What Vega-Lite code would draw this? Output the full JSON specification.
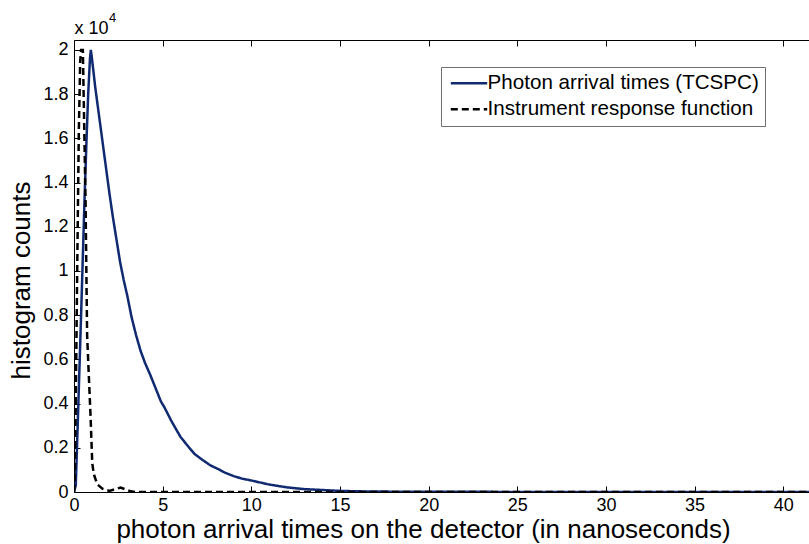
{
  "$schema": "https://vega.github.io/schema/vega-lite/v6.json",
  "width": 735,
  "height": 452,
  "autosize": {"type": "none"},
  "padding": {"left": 74, "top": 40, "right": 0, "bottom": 52},
  "background": "white",
  "title": {
    "text": "4",
    "anchor": "start",
    "frame": "group",
    "fontSize": 13,
    "fontWeight": "normal",
    "font": "Liberation Sans",
    "color": "black",
    "dx": 35,
    "offset": -6
  },
  "config": {
    "view": {"stroke": null},
    "font": "Liberation Sans",
    "axis": {
      "domainColor": "black",
      "domainWidth": 1,
      "tickColor": "black",
      "tickWidth": 1,
      "tickSize": -6,
      "grid": false,
      "labelFont": "Liberation Sans",
      "labelFontSize": 18,
      "labelColor": "black",
      "labelPadding": 10,
      "labelFlush": false,
      "labelOverlap": false,
      "titleFont": "Liberation Sans",
      "titleFontSize": 26,
      "titleFontWeight": "normal",
      "titleColor": "black"
    },
    "legend": {
      "orient": "none",
      "legendX": 367,
      "legendY": 27,
      "title": null,
      "padding": 6,
      "strokeColor": "#707070",
      "fillColor": "white",
      "labelFont": "Liberation Sans",
      "labelFontSize": 20.6,
      "labelColor": "black",
      "labelLimit": 500,
      "labelOffset": 20,
      "rowPadding": 5,
      "symbolType": "M-1,0H4.6",
      "symbolSize": 169,
      "symbolStrokeWidth": 2.5
    }
  },
  "datasets": {
    "tcspc": [
      {"t": 0, "counts": 0, "series": "Photon arrival times (TCSPC)"},
      {"t": 0.1, "counts": 300, "series": "Photon arrival times (TCSPC)"},
      {"t": 0.2, "counts": 2800, "series": "Photon arrival times (TCSPC)"},
      {"t": 0.3, "counts": 5400, "series": "Photon arrival times (TCSPC)"},
      {"t": 0.4, "counts": 8000, "series": "Photon arrival times (TCSPC)"},
      {"t": 0.5, "counts": 10700, "series": "Photon arrival times (TCSPC)"},
      {"t": 0.6, "counts": 13400, "series": "Photon arrival times (TCSPC)"},
      {"t": 0.7, "counts": 15800, "series": "Photon arrival times (TCSPC)"},
      {"t": 0.8, "counts": 18000, "series": "Photon arrival times (TCSPC)"},
      {"t": 0.9, "counts": 19600, "series": "Photon arrival times (TCSPC)"},
      {"t": 0.95, "counts": 20000, "series": "Photon arrival times (TCSPC)"},
      {"t": 1.0, "counts": 19700, "series": "Photon arrival times (TCSPC)"},
      {"t": 1.1, "counts": 19000, "series": "Photon arrival times (TCSPC)"},
      {"t": 1.2, "counts": 18300, "series": "Photon arrival times (TCSPC)"},
      {"t": 1.3, "counts": 17700, "series": "Photon arrival times (TCSPC)"},
      {"t": 1.45, "counts": 16800, "series": "Photon arrival times (TCSPC)"},
      {"t": 1.6, "counts": 15900, "series": "Photon arrival times (TCSPC)"},
      {"t": 1.8, "counts": 14700, "series": "Photon arrival times (TCSPC)"},
      {"t": 2.0, "counts": 13500, "series": "Photon arrival times (TCSPC)"},
      {"t": 2.2, "counts": 12400, "series": "Photon arrival times (TCSPC)"},
      {"t": 2.4, "counts": 11400, "series": "Photon arrival times (TCSPC)"},
      {"t": 2.6, "counts": 10400, "series": "Photon arrival times (TCSPC)"},
      {"t": 2.8, "counts": 9600, "series": "Photon arrival times (TCSPC)"},
      {"t": 3.0, "counts": 8900, "series": "Photon arrival times (TCSPC)"},
      {"t": 3.25, "counts": 7900, "series": "Photon arrival times (TCSPC)"},
      {"t": 3.5, "counts": 7100, "series": "Photon arrival times (TCSPC)"},
      {"t": 3.75, "counts": 6400, "series": "Photon arrival times (TCSPC)"},
      {"t": 4.0, "counts": 5850, "series": "Photon arrival times (TCSPC)"},
      {"t": 4.3, "counts": 5300, "series": "Photon arrival times (TCSPC)"},
      {"t": 4.6, "counts": 4700, "series": "Photon arrival times (TCSPC)"},
      {"t": 4.9, "counts": 4100, "series": "Photon arrival times (TCSPC)"},
      {"t": 5.1, "counts": 3830, "series": "Photon arrival times (TCSPC)"},
      {"t": 5.5, "counts": 3200, "series": "Photon arrival times (TCSPC)"},
      {"t": 6.0, "counts": 2500, "series": "Photon arrival times (TCSPC)"},
      {"t": 6.5, "counts": 2000, "series": "Photon arrival times (TCSPC)"},
      {"t": 6.8, "counts": 1720, "series": "Photon arrival times (TCSPC)"},
      {"t": 7.25, "counts": 1450, "series": "Photon arrival times (TCSPC)"},
      {"t": 7.7, "counts": 1200, "series": "Photon arrival times (TCSPC)"},
      {"t": 8.1, "counts": 1050, "series": "Photon arrival times (TCSPC)"},
      {"t": 8.5, "counts": 880, "series": "Photon arrival times (TCSPC)"},
      {"t": 9.0, "counts": 720, "series": "Photon arrival times (TCSPC)"},
      {"t": 9.5, "counts": 600, "series": "Photon arrival times (TCSPC)"},
      {"t": 10.0, "counts": 520, "series": "Photon arrival times (TCSPC)"},
      {"t": 11.0, "counts": 340, "series": "Photon arrival times (TCSPC)"},
      {"t": 12.0, "counts": 210, "series": "Photon arrival times (TCSPC)"},
      {"t": 13.0, "counts": 130, "series": "Photon arrival times (TCSPC)"},
      {"t": 14.0, "counts": 90, "series": "Photon arrival times (TCSPC)"},
      {"t": 15.0, "counts": 50, "series": "Photon arrival times (TCSPC)"},
      {"t": 16.0, "counts": 30, "series": "Photon arrival times (TCSPC)"},
      {"t": 18.0, "counts": 15, "series": "Photon arrival times (TCSPC)"},
      {"t": 20.0, "counts": 10, "series": "Photon arrival times (TCSPC)"},
      {"t": 25.0, "counts": 4, "series": "Photon arrival times (TCSPC)"},
      {"t": 30.0, "counts": 2, "series": "Photon arrival times (TCSPC)"},
      {"t": 35.0, "counts": 1, "series": "Photon arrival times (TCSPC)"},
      {"t": 41.45, "counts": 0, "series": "Photon arrival times (TCSPC)"}
    ],
    "irf": [
      {"t": 0, "counts": 0, "series": "Instrument response function"},
      {"t": 0.04, "counts": 500, "series": "Instrument response function"},
      {"t": 0.08, "counts": 2600, "series": "Instrument response function"},
      {"t": 0.18, "counts": 10000, "series": "Instrument response function"},
      {"t": 0.27, "counts": 16200, "series": "Instrument response function"},
      {"t": 0.35, "counts": 19500, "series": "Instrument response function"},
      {"t": 0.4, "counts": 20000, "series": "Instrument response function"},
      {"t": 0.5, "counts": 20000, "series": "Instrument response function"},
      {"t": 0.55, "counts": 17700, "series": "Instrument response function"},
      {"t": 0.65, "counts": 13200, "series": "Instrument response function"},
      {"t": 0.74, "counts": 7100, "series": "Instrument response function"},
      {"t": 0.85, "counts": 5000, "series": "Instrument response function"},
      {"t": 0.93, "counts": 3500, "series": "Instrument response function"},
      {"t": 1.03, "counts": 1300, "series": "Instrument response function"},
      {"t": 1.12, "counts": 800, "series": "Instrument response function"},
      {"t": 1.31, "counts": 350, "series": "Instrument response function"},
      {"t": 1.6, "counts": 150, "series": "Instrument response function"},
      {"t": 2.0, "counts": 50, "series": "Instrument response function"},
      {"t": 2.3, "counts": 120, "series": "Instrument response function"},
      {"t": 2.63, "counts": 200, "series": "Instrument response function"},
      {"t": 2.9, "counts": 120, "series": "Instrument response function"},
      {"t": 3.2, "counts": 30, "series": "Instrument response function"},
      {"t": 3.5, "counts": 0, "series": "Instrument response function"},
      {"t": 41.45, "counts": 0, "series": "Instrument response function"}
    ]
  },
  "layer": [
    {
      "data": {"name": "tcspc"},
      "mark": {"type": "line", "strokeWidth": 2.5, "clip": true},
      "encoding": {
        "x": {
          "field": "t", "type": "quantitative",
          "scale": {"domain": [0, 41.45], "nice": false, "zero": false},
          "axis": {
            "orient": "bottom",
            "values": [0, 5, 10, 15, 20, 25, 30, 35, 40],
            "title": "photon arrival times on the detector (in nanoseconds)",
            "titleX": 349,
            "titleY": 45,
            "titleAlign": "center",
            "titleBaseline": "alphabetic",
            "titleAnchor": null
          }
        },
        "y": {
          "field": "counts", "type": "quantitative",
          "scale": {"domain": [0, 20450], "nice": false},
          "axis": {
            "values": [0, 2000, 4000, 6000, 8000, 10000, 12000, 14000, 16000, 18000, 20000],
            "labelExpr": "format(datum.value / 10000, '.1~f')",
            "labelPadding": 12,
            "title": "histogram counts",
            "titleX": -45,
            "titleY": 240,
            "titleAngle": 270,
            "titleAlign": "center",
            "titleBaseline": "alphabetic"
          }
        },
        "color": {
          "field": "series", "type": "nominal",
          "scale": {"domain": ["Photon arrival times (TCSPC)", "Instrument response function"], "range": ["#102a72", "#000000"]}
        },
        "strokeDash": {
          "field": "series", "type": "nominal",
          "scale": {"domain": ["Photon arrival times (TCSPC)", "Instrument response function"], "range": [[1, 0], [7, 4]]}
        }
      }
    },
    {
      "data": {"name": "irf"},
      "mark": {"type": "line", "strokeWidth": 2.5, "clip": true},
      "encoding": {
        "x": {
          "field": "t", "type": "quantitative",
          "scale": {"domain": [0, 41.45], "nice": false, "zero": false},
          "axis": {
            "orient": "top",
            "values": [0, 5, 10, 15, 20, 25, 30, 35, 40],
            "labels": false,
            "title": "x 10",
            "titleFontSize": 18,
            "titleX": 0,
            "titleY": -7,
            "titleAngle": 0,
            "titleAlign": "left",
            "titleBaseline": "alphabetic",
            "titleAnchor": null
          }
        },
        "y": {"field": "counts", "type": "quantitative"},
        "color": {
          "field": "series", "type": "nominal",
          "scale": {"domain": ["Photon arrival times (TCSPC)", "Instrument response function"], "range": ["#102a72", "#000000"]}
        },
        "strokeDash": {
          "field": "series", "type": "nominal",
          "scale": {"domain": ["Photon arrival times (TCSPC)", "Instrument response function"], "range": [[1, 0], [7, 4]]}
        }
      }
    }
  ],
  "resolve": {"axis": {"x": "independent"}}
}
